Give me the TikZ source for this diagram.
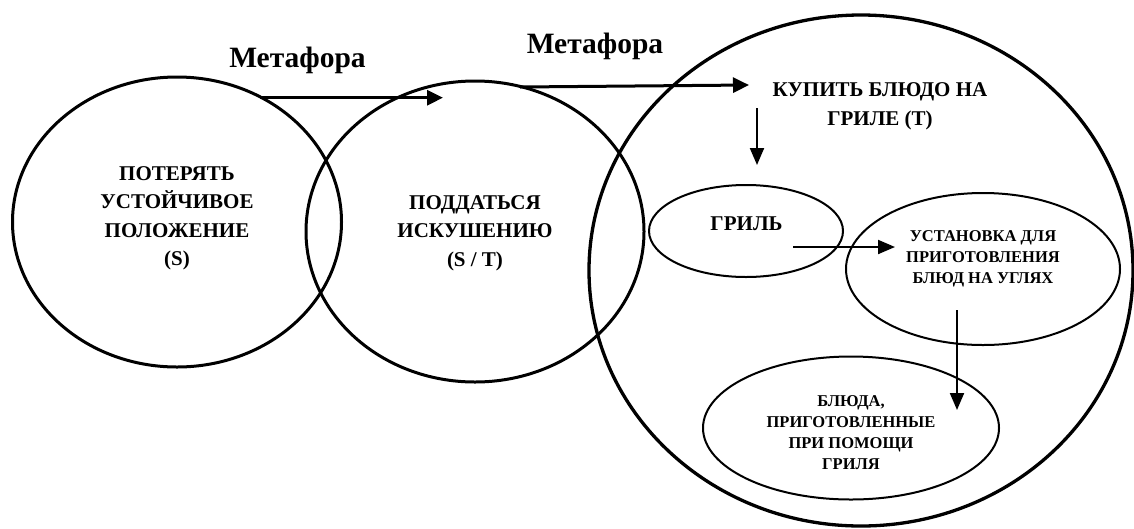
\documentclass[tikz,border=0pt]{standalone}
\usepackage{fontspec}
\setmainfont{Liberation Serif}
\usetikzlibrary{shapes.geometric,arrows.meta}
\newcommand{\mlines}[1]{\begin{tabular}[t]{@{}c@{}}#1\end{tabular}}
\tikzset{
  bigring/.style={draw, ellipse, line width=3pt, inner sep=0pt},
  smallring/.style={draw, ellipse, line width=2pt, inner sep=0pt},
  thickarrow/.style={-{Triangle[length=16pt,width=15pt]}, line width=3pt},
  thinarrow/.style={-{Triangle[length=17pt,width=14pt]}, line width=2pt},
  metalabel/.style={anchor=base, inner sep=0pt, font=\fontsize{29.5}{34}\selectfont\bfseries},
  bigtext/.style={anchor=base, inner sep=0pt, font=\fontsize{21}{28.6}\selectfont\bfseries},
  smalltext/.style={anchor=base, inner sep=0pt, font=\fontsize{16.5}{20.8}\selectfont\bfseries}
}
\begin{document}
\begin{tikzpicture}[x=1pt,y=-1pt]
\useasboundingbox (0,0) rectangle (1134,528);
% rings
\node[bigring, minimum width=329pt, minimum height=290pt] (cs) at (177,222) {};
\node[bigring, minimum width=338pt, minimum height=301pt] (cst) at (475,231.5) {};
\node[bigring, line width=3.3pt, minimum width=544pt, minimum height=511pt] (ct) at (861,270.5) {};
\node[smallring, minimum width=194pt, minimum height=92pt] (grill) at (746,231) {};
\node[smallring, minimum width=274pt, minimum height=152pt] (device) at (983,269) {};
\node[smallring, minimum width=296pt, minimum height=143pt] (dishes) at (851,428) {};
% texts
\node[metalabel] (m1) at (297.5,67) {Метафора};
\node[metalabel] (m2) at (595,53) {Метафора};
\node[bigtext] (ts) at (177,180) {\mlines{ПОТЕРЯТЬ\\УСТОЙЧИВОЕ\\ПОЛОЖЕНИЕ\\(S)}};
\node[bigtext] (tst) at (475,209) {\mlines{ПОДДАТЬСЯ\\ИСКУШЕНИЮ\\(S / T)}};
\node[bigtext] (tt) at (880,96.5) {\mlines{КУПИТЬ БЛЮДО НА\\ГРИЛЕ (Т)}};
\node[bigtext] (tg) at (746.5,230) {ГРИЛЬ};
\node[smalltext] (td) at (983,241.7) {\mlines{УСТАНОВКА ДЛЯ\\ПРИГОТОВЛЕНИЯ\\БЛЮД НА УГЛЯХ}};
\node[smalltext] (tb) at (851,406.7) {\mlines{БЛЮДА,\\ПРИГОТОВЛЕННЫЕ\\ПРИ ПОМОЩИ\\ГРИЛЯ}};
% arrow end points
\coordinate (a1s) at (260,97.7);
\coordinate (a1e) at (443,97.7);
\coordinate (a2s) at (520,87);
\coordinate (a2e) at (749,85);
\coordinate (a3s) at (757,108);
\coordinate (a3e) at (757,165);
\coordinate (a4s) at (793,247);
\coordinate (a4e) at (895,247);
\coordinate (a5s) at (957,310);
\coordinate (a5e) at (957,410);
\draw[thickarrow] (a1s) -- (a1e);
\draw[thickarrow] (a2s) -- (a2e);
\draw[thinarrow] (a3s) -- (a3e);
\draw[thinarrow] (a4s) -- (a4e);
\draw[thinarrow] (a5s) -- (a5e);
\end{tikzpicture}
\end{document}
